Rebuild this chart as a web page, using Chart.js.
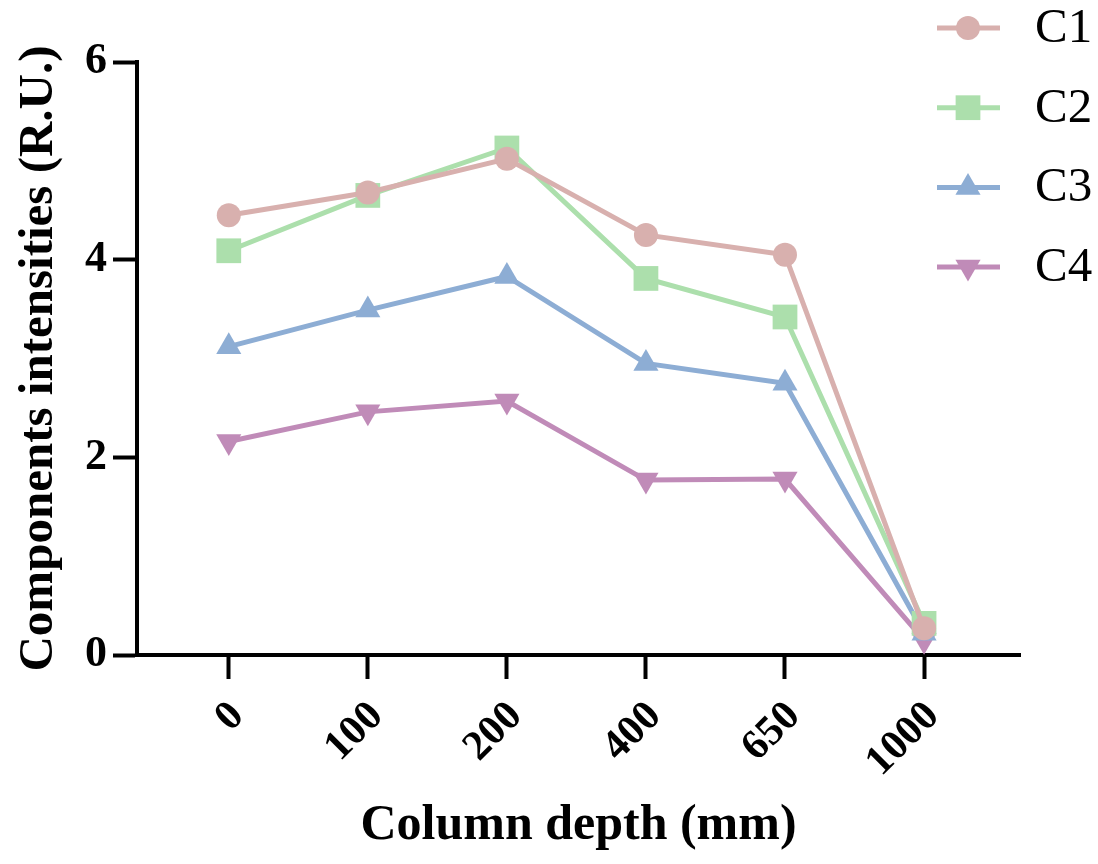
<!DOCTYPE html>
<html>
<head>
<meta charset="utf-8">
<title>Components intensities</title>
<script src="https://cdn.jsdelivr.net/npm/chart.js@4.4.1/dist/chart.umd.min.js"></script>
<style>
    html, body { margin: 0; padding: 0; background: #fff; }
    #wrap { width: 1098px; height: 864px; }
</style>
</head>
<body>
<div id="wrap"><canvas id="chart" width="1098" height="864"></canvas></div>
<script>
// Column depth categories (mm)
const depths = ['0', '100', '200', '400', '650', '1000'];

// Component intensities (R.U.)
const c1 = [4.45, 4.68, 5.02, 4.25, 4.05, 0.27];
const c2 = [4.09, 4.65, 5.13, 3.81, 3.42, 0.32];
const c3 = [3.12, 3.49, 3.83, 2.95, 2.75, 0.22];
const c4 = [2.16, 2.46, 2.57, 1.77, 1.78, 0.15];

const yTicks = [0, 2, 4, 6];

const serif = "'Liberation Serif', 'Times New Roman', serif";

function toPoints(values) {
    return values.map((v, i) => ({ x: i, y: v }));
}

function series(label, values, color, style, radius, rotation) {
    return {
        label: label,
        data: toPoints(values),
        borderColor: color,
        backgroundColor: color,
        borderWidth: 5,
        pointStyle: style,
        pointRadius: radius,
        pointHoverRadius: radius,
        pointRotation: rotation || 0,
        pointBackgroundColor: color,
        pointBorderColor: color,
        pointBorderWidth: 0,
        tension: 0,
        clip: false
    };
}

// legend drawn at the top right, beside the plot like the original
const sideLegend = {
    id: 'sideLegend',
    afterDraw(chart) {
        const ctx = chart.ctx;
        const x0 = chart.chartArea.right - 83;
        chart.data.datasets.forEach((ds, i) => {
            const y = 28 + i * 79.7;
            ctx.save();
            ctx.strokeStyle = ds.borderColor;
            ctx.lineWidth = 5;
            ctx.beginPath();
            ctx.moveTo(x0, y);
            ctx.lineTo(x0 + 63, y);
            ctx.stroke();
            ctx.fillStyle = ds.pointBackgroundColor;
            Chart.helpers.drawPoint(ctx, {
                pointStyle: ds.pointStyle,
                radius: ds.pointRadius,
                rotation: ds.pointRotation,
                borderWidth: 0
            }, x0 + 31, y);
            ctx.fillStyle = '#000';
            ctx.font = '49px ' + serif;
            ctx.textBaseline = 'middle';
            ctx.textAlign = 'left';
            ctx.fillText(ds.label, x0 + 98, y + 1);
            ctx.restore();
        });
    }
};

const ctx = document.getElementById('chart').getContext('2d');
const chart = new Chart(ctx, {
    type: 'line',
    data: {
        datasets: [
            series('C1', c1, '#d8b0ae', 'circle', 12),
            series('C2', c2, '#acdfac', 'rect', 17.5),
            series('C3', c3, '#8dadd4', 'triangle', 14.5),
            series('C4', c4, '#c08bb8', 'triangle', 14.5, 180)
        ]
    },
    options: {
        responsive: false,
        animation: false,
        layout: {
            padding: { left: 10, right: 78, top: 62, bottom: 8 }
        },
        plugins: {
            legend: { display: false },
            tooltip: { enabled: false }
        },
        scales: {
            x: {
                type: 'linear',
                min: -0.66,
                max: 5.69,
                afterBuildTicks: (scale) => {
                    scale.ticks = depths.map((d, i) => ({ value: i }));
                },
                afterFit: (scale) => {
                    scale.height = 201;
                    scale.paddingLeft = 0;
                    scale.paddingRight = 0;
                },
                ticks: {
                    autoSkip: false,
                    minRotation: 45,
                    maxRotation: 45,
                    padding: 13,
                    labelOffset: 9,
                    color: '#000',
                    font: { family: serif, size: 42, weight: 'bold' },
                    callback: (value) => depths[value]
                },
                grid: {
                    drawOnChartArea: false,
                    drawTicks: true,
                    tickLength: 24,
                    tickWidth: 4,
                    tickColor: '#000'
                },
                border: { display: true, color: '#000', width: 4 },
                title: {
                    display: true,
                    text: 'Column depth (mm)',
                    color: '#000',
                    padding: 0,
                    font: { family: serif, size: 50, weight: 'bold' }
                }
            },
            y: {
                min: 0,
                max: 6,
                afterBuildTicks: (scale) => {
                    scale.ticks = yTicks.map(v => ({ value: v }));
                },
                afterFit: (scale) => {
                    scale.width = 127;
                    scale.paddingTop = 0;
                    scale.paddingBottom = 0;
                },
                ticks: {
                    padding: 6,
                    color: '#000',
                    font: { family: serif, size: 44, weight: 'bold' }
                },
                grid: {
                    drawOnChartArea: false,
                    drawTicks: true,
                    tickLength: 24,
                    tickWidth: 4,
                    tickColor: '#000'
                },
                border: { display: true, color: '#000', width: 4 },
                title: {
                    display: true,
                    text: 'Components intensities (R.U.)',
                    color: '#000',
                    padding: 0,
                    font: { family: serif, size: 49, weight: 'bold' }
                }
            }
        }
    },
    plugins: [sideLegend]
});
</script>
</body>
</html>
